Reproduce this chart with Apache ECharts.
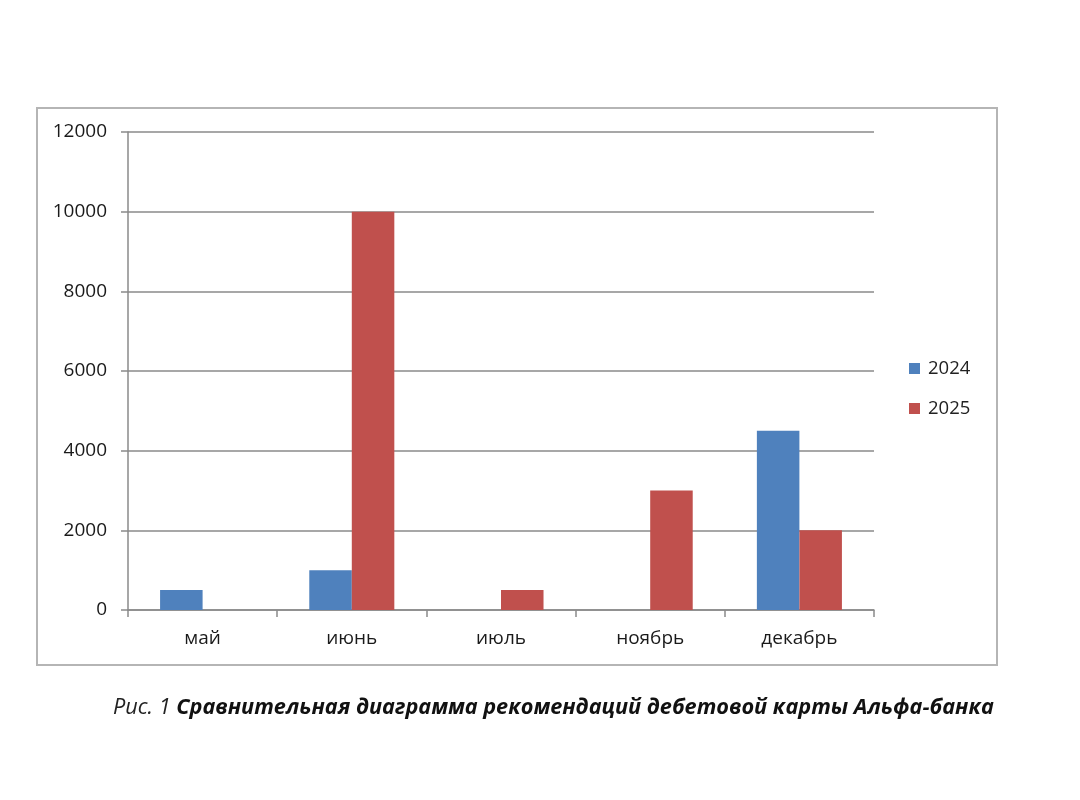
<!DOCTYPE html>
<html>
<head>
<meta charset="utf-8">
<script src="https://cdn.jsdelivr.net/npm/echarts@6/dist/echarts.min.js"></script>
<style>
  html, body { margin: 0; padding: 0; background: #fff; }
  #chart { width: 1080px; height: 800px; }
</style>
</head>
<body>
<div id="chart"></div>
<script>
const months = ['май', 'июнь', 'июль', 'ноябрь', 'декабрь'];
const values2024 = [500, 1000, 0, 0, 4500];
const values2025 = [0, 10000, 500, 3000, 2000];
const yTicks = [0, 2000, 4000, 6000, 8000, 10000, 12000];

const font = '"Open Sans", "Noto Sans", sans-serif';
const gridColor = '#8a8a8a';

let chart = echarts.init(document.getElementById('chart'));
let option = {
	animation: false,
	backgroundColor: '#fff',
	color: ['#4F81BD', '#C0504D'],
	grid: { left: 128, top: 132, width: 746, height: 478 },
	legend: {
		orient: 'vertical',
		left: 904,
		top: 354,
		itemWidth: 11,
		itemHeight: 11,
		itemGap: 21,
		icon: 'rect',
		textStyle: { fontFamily: font, fontSize: 18.5, color: '#222', padding: [0, 0, 0, 3] },
		data: ['2024', '2025']
	},
	xAxis: {
		type: 'category',
		data: months,
		axisLine: { lineStyle: { color: gridColor, width: 1.5 } },
		axisTick: { show: true, length: 7, lineStyle: { color: gridColor, width: 1.5 } },
		axisLabel: { fontFamily: font, fontSize: 19, color: '#1a1a1a', margin: 19 }
	},
	yAxis: {
		type: 'value',
		min: yTicks[0],
		max: yTicks[yTicks.length - 1],
		interval: 2000,
		axisLine: { show: true, lineStyle: { color: gridColor, width: 1.5 } },
		axisTick: { show: true, length: 7, lineStyle: { color: gridColor, width: 1.5 } },
		axisLabel: {
			fontFamily: font, fontSize: 19, color: '#1a1a1a', margin: 21,
			formatter: (v) => String(v)
		},
		splitLine: { lineStyle: { color: gridColor, width: 1.5 } }
	},
	series: [
		{ name: '2024', type: 'bar', data: values2024, barGap: 0, barCategoryGap: '43%' },
		{ name: '2025', type: 'bar', data: values2025, barGap: 0, barCategoryGap: '43%' }
	],
	graphic: [
		{
			type: 'rect',
			shape: { x: 37, y: 108, width: 960, height: 557 },
			style: { fill: 'none', stroke: '#b5b5b5', lineWidth: 2 },
			silent: true
		},
		{
			type: 'text',
			left: 113,
			top: 697,
			style: {
				text: '{a|Рис. 1 }{b|Сравнительная диаграмма рекомендаций дебетовой карты Альфа-банка}',
				rich: {
					a: { fontFamily: font, fontSize: 21.7, fontStyle: 'italic', fill: '#222' },
					b: { fontFamily: font, fontSize: 21.7, fontStyle: 'italic', fontWeight: 'bold', fill: '#111' }
				}
			}
		}
	]
};
chart.setOption(option, true);
window.addEventListener('resize', () => { chart.resize(); });
</script>
</body>
</html>
